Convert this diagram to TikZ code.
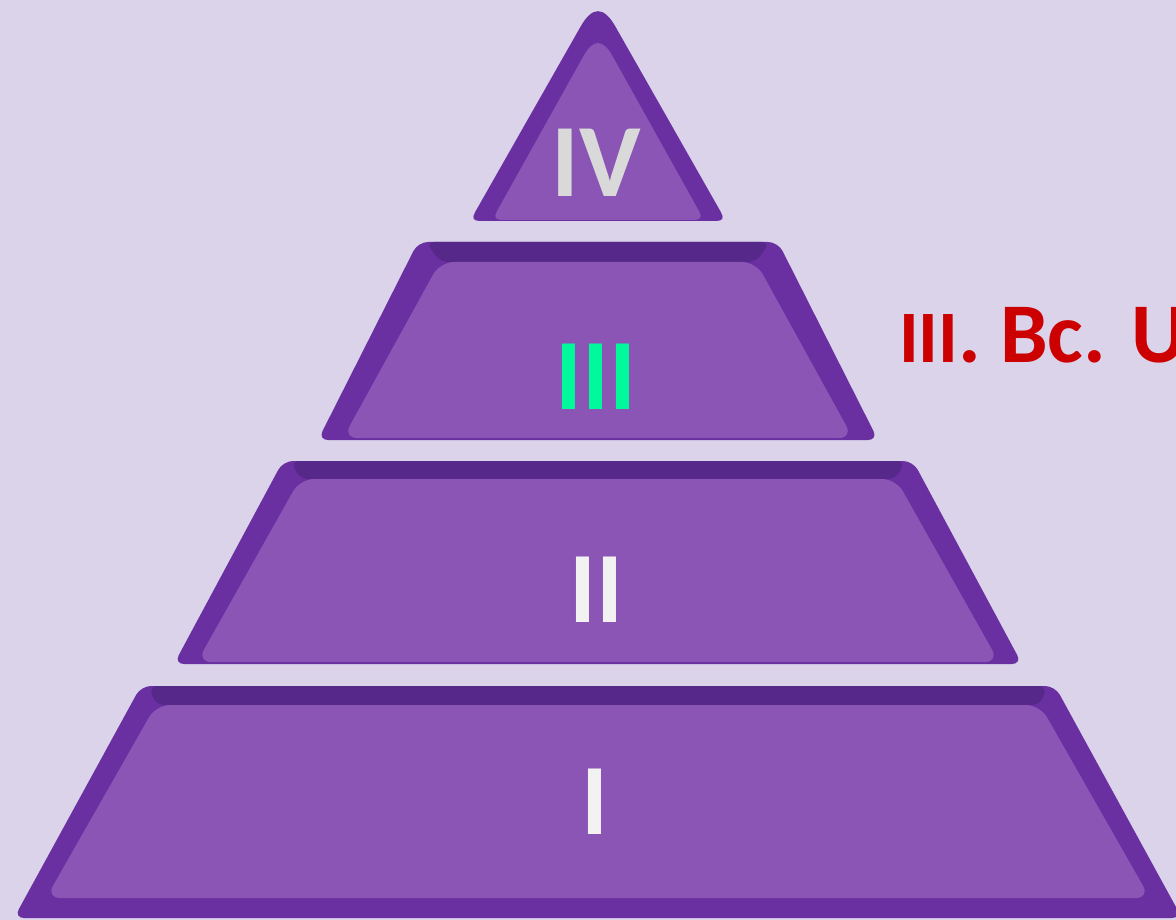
\documentclass[tikz,border=0pt]{standalone}
\usepackage{fontspec}
\setmainfont{Carlito}
\definecolor{bgcol}{HTML}{DAD3EA}
\definecolor{outercol}{HTML}{6A2FA0}
\definecolor{bandcol}{HTML}{56288A}
\definecolor{innercol}{HTML}{8A55B5}
\definecolor{ivcol}{HTML}{D9D9D9}
\definecolor{iiicol}{HTML}{00F99A}
\definecolor{whitecol}{HTML}{F2F2F2}
\definecolor{redcol}{HTML}{CC0000}
\newcommand\tiershape[9]{%
  \fill[outercol, rounded corners=10pt] (#1-#4,#2) -- (#1+#4,#2) -- (#1+#5,#3) -- (#1-#5,#3) -- cycle;
  \fill[bandcol, rounded corners=8pt] (#1-#4+8,#2) -- (#1+#4-8,#2) -- (#1+#8,#6) -- (#1-#8,#6) -- cycle;
  \fill[innercol, rounded corners=14pt] (#1-#8,#6) -- (#1+#8,#6) -- (#1+#9,#7) -- (#1-#9,#7) -- cycle;
}
\tikzset{
  numeral/.style={inner sep=0pt, anchor=base, font=\bfseries\fontsize{101}{101}\selectfont},
}
\begin{document}
\begin{tikzpicture}[x=1pt,y=-1pt]
\useasboundingbox (0,0) rectangle (1176,920);
\fill[bgcol] (0,0) rectangle (1176,920);
% top triangle
\fill[outercol] (580.7,26.4) .. controls (592.2,6.1) and (603.8,6.1) .. (615.3,26.4) -- (721,212.3)
  .. controls (724.3,218.1) and (722.7,221) .. (716,221) -- (480,221)
  .. controls (473.3,221) and (471.7,218.1) .. (475,212.3) -- cycle;
\fill[innercol] (583.4,56.2) .. controls (593.1,38.7) and (602.9,38.7) .. (612.6,56.2) -- (699.1,211.3)
  .. controls (702.4,217.1) and (700.7,220) .. (694,220) -- (502,220)
  .. controls (495.3,220) and (493.6,217.1) .. (496.9,211.3) -- cycle;
% tiers
\tiershape{598}{242}{440}{180}{280}{262}{438}{158}{255}
\tiershape{598}{461}{664}{315}{424}{479}{662}{298}{401}
\tiershape{598}{686}{918}{457}{584}{705}{898}{442}{552}
% numerals
\node[numeral, text=ivcol, font=\bfseries\fontsize{104}{104}\selectfont] (iv) at (596,197) {IV};
\node[numeral, text=iiicol] (iii) at (596,409) {III};
\node[numeral, text=whitecol] (ii) at (596,622) {II};
\node[numeral, text=whitecol] (i) at (595,834) {I};
\node[inner sep=0pt, anchor=base west, text=redcol, font=\bfseries] (label) at (899,362)
  {{\fontsize{74}{74}\selectfont III}{\fontsize{85}{85}\selectfont. Bc. U}};
\end{tikzpicture}
\end{document}
